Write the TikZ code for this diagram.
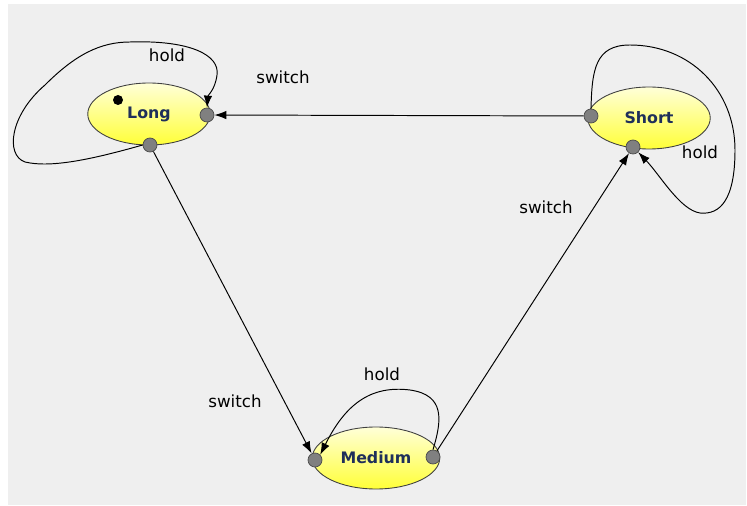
\documentclass[tikz,border=0pt]{standalone}
\usepackage{fontspec}
\setmainfont{DejaVu Sans}
\usetikzlibrary{arrows, arrows.meta}
\usetikzlibrary{shapes.geometric}

\definecolor{canvasgrey}{HTML}{EFEFEF}
\definecolor{statetop}{HTML}{FFFFD8}
\definecolor{statebot}{HTML}{FFFF38}
\definecolor{statetext}{HTML}{1F2F5A}
\definecolor{portfill}{HTML}{808080}

\tikzset{
  state/.style={ellipse, draw=black!75, line width=0.5pt, top color=statetop, bottom color=statebot,
    minimum width=2.45cm, minimum height=1.24cm, inner sep=0pt,
    font=\fontsize{9}{10}\selectfont\bfseries, text=statetext},
  port/.style={circle, draw=black!70, fill=portfill, inner sep=0pt, minimum size=0.28cm},
  lbl/.style={font=\fontsize{9.5}{11}\selectfont, inner sep=0pt},
  arr/.style={-{Latex[length=2.4mm, width=1.7mm]}, line width=0.55pt}
}

\begin{document}
\begin{tikzpicture}[x=0.02cm, y=-0.02cm]
      \useasboundingbox (0,0) rectangle (747,506);
      \fill[canvasgrey] (8,4) rectangle (746,505);

      % states
      \node[state] (long) at (149,114) {Long};
      \node[state] (short) at (649,118) {Short};
      \node[state, minimum width=2.55cm] (medium) at (376,458) {Medium};
      \fill (118,100) circle (5);

      % ports
      \node[port] (lright) at (207,115) {};
      \node[port] (lbot) at (150,145) {};
      \node[port] (sleft) at (591,116) {};
      \node[port] (sbot) at (633,147) {};
      \node[port] (mleft) at (315,460) {};
      \node[port] (mright) at (433,457) {};

      % switch edges
      \draw[arr] (sleft) -- (lright);
      \draw[arr] (lbot) -- (mleft);
      \draw[arr] (mright) -- (sbot);

      % hold loops
      \draw[arr] (lbot.west) .. controls (90,160) and (50,168) .. (25,162)
        .. controls (5,155) and (10,115) .. (45,85)
        .. controls (75,55) and (100,42) .. (130,42)
        .. controls (190,40) and (220,55) .. (217,75)
        .. controls (215,90) and (208,95) .. (lright.north);
      \draw[arr] (sleft.north) .. controls (592,70) and (595,45) .. (630,45)
        .. controls (690,45) and (735,90) .. (735,150)
        .. controls (735,200) and (720,215) .. (700,213)
        .. controls (680,210) and (660,175) .. (sbot.south east);
      \draw[arr] (mright.north) .. controls (442,420) and (445,395) .. (410,390)
        .. controls (370,385) and (345,405) .. (mleft.north east);

      % labels
      \node[lbl] (holdl) at (167,55) {hold};
      \node[lbl] (swls) at (283,77) {switch};
      \node[lbl] (swlm) at (235,401) {switch};
      \node[lbl] (swms) at (546,207) {switch};
      \node[lbl] (holdm) at (382,374) {hold};
      \node[lbl] (holds) at (700,152) {hold};
\end{tikzpicture}
\end{document}
